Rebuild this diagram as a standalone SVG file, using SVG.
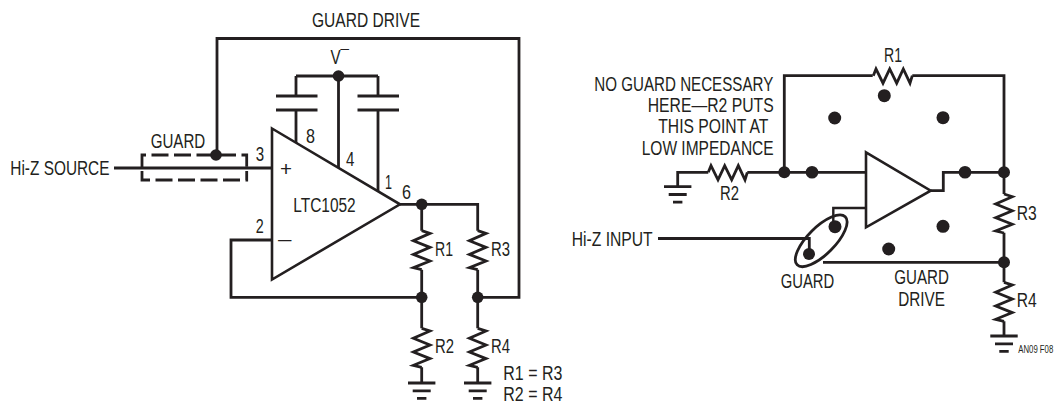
<svg xmlns="http://www.w3.org/2000/svg" xmlns:xlink="http://www.w3.org/1999/xlink" width="1057" height="403" viewBox="0 0 1057 403">
<style>
text{font-family:"Liberation Sans",Arial,sans-serif;font-size:19.5px;fill:#231f20}
.w{fill:none;stroke:#231f20;stroke-width:2.8;stroke-linejoin:miter;stroke-linecap:butt}
.n{fill:none;stroke:#231f20;stroke-width:2.4;stroke-linejoin:miter;stroke-linecap:butt}
.t{fill:#fff;stroke:#231f20;stroke-width:2.6;stroke-miterlimit:10}
.d{fill:#231f20;stroke:none}
.g{fill:none;stroke:#231f20;stroke-width:2.8;stroke-dasharray:17 5.5}
</style>
<defs>
<path id="rv" class="w" d="M0,0L8.3,2.7L-8.3,10L8.3,16.7L-8.3,23.7L8.3,30.3L-8.3,37L0,39"/>
<path id="rh" class="w" d="M0,0L2.7,-6.7L9.7,7.5L16.4,-6.7L23.4,7.5L30,-6.7L36.7,7.5L39,0"/>
<path id="gnd" class="w" d="M-13.7,0H13.7M-9,7.8H9M-4.7,15.4H4.7"/>
</defs>
<rect width="1057" height="403" fill="#fff"/>
<g id="connectors">
<path class="w" d="M217,155V38.5H519V297.3H477.7"/>
<path class="w" d="M114,168H272"/>
<path class="w" d="M296,76H378M296,76V96M296,110V143M338.5,76V168M378,76V96M378,110V191"/>
<path class="w" d="M276,96H317.5M276,110H317.5M357.5,96H399M357.5,110H399"/>
<path class="w" d="M272,240H231V297.3H421.7"/>
<path class="w" d="M400,204.3H477.7V230.7M421.7,204.3V230.7M421.7,269.7V328.3M477.7,269.7V328.3M421.7,367.3V383M477.7,367.3V383"/>
<path class="w" d="M708.3,172.3H677.7V186.7M747.3,172.3H866M784.3,172.3V75.7H872.7M912.3,75.7H1004V194M1004,232.7V282.3M1004,321.3V336"/>
<path class="w" d="M930.7,190.7H943.3V172.3H1004"/>
<path class="n" d="M866,208H833.3V226"/>
<path class="w" d="M658,238.5H809.3V254"/>
<path class="w" d="M823,262.3H1004"/>
</g>
<g id="guard-shield"><path class="g" d="M142,168V155H246.7V168"/><path class="g" d="M142,171V180H246.7V171"/><circle class="d" cx="216" cy="155" r="5.8"/></g>
<g id="opamp-left"><path class="t" d="M272,128.5L400,204.3L272,279.5Z"/>
<text x="280" y="175.5" textLength="12" lengthAdjust="spacingAndGlyphs">+</text>
<text x="278" y="246" textLength="13.5" lengthAdjust="spacingAndGlyphs">–</text>
<text x="293.3" y="212" textLength="62.4" lengthAdjust="spacingAndGlyphs">LTC1052</text></g>
<g id="caps-left"><circle class="d" cx="338.5" cy="76" r="5.8"/></g>
<g id="r1-left"><use xlink:href="#rv" href="#rv" x="421.7" y="230.7"/><text x="435" y="255.7" textLength="18" lengthAdjust="spacingAndGlyphs">R1</text></g>
<g id="r2-left"><use xlink:href="#rv" href="#rv" x="421.7" y="328.3"/><text x="435" y="352.7" textLength="19" lengthAdjust="spacingAndGlyphs">R2</text><use xlink:href="#gnd" href="#gnd" x="421.7" y="383"/></g>
<g id="r3-left"><use xlink:href="#rv" href="#rv" x="477.7" y="230.7"/><text x="491" y="255.7" textLength="19" lengthAdjust="spacingAndGlyphs">R3</text></g>
<g id="r4-left"><use xlink:href="#rv" href="#rv" x="477.7" y="328.3"/><text x="491" y="352.7" textLength="19" lengthAdjust="spacingAndGlyphs">R4</text><use xlink:href="#gnd" href="#gnd" x="477.7" y="383"/></g>
<g id="dots-left"><circle class="d" cx="421.7" cy="204.3" r="5.8"/><circle class="d" cx="421.7" cy="297.3" r="5.8"/><circle class="d" cx="477.7" cy="297.3" r="5.8"/></g>
<g id="labels-left">
<text x="312" y="27" textLength="108" lengthAdjust="spacingAndGlyphs">GUARD DRIVE</text>
<text x="330.5" y="64" textLength="18.5" lengthAdjust="spacingAndGlyphs">V¯</text>
<text x="150.7" y="148" textLength="54.6" lengthAdjust="spacingAndGlyphs">GUARD</text>
<text x="10.3" y="175" textLength="99.2" lengthAdjust="spacingAndGlyphs">Hi-Z SOURCE</text>
<text x="255.7" y="161" textLength="8.4" lengthAdjust="spacingAndGlyphs">3</text>
<text x="306" y="143" textLength="9" lengthAdjust="spacingAndGlyphs">8</text>
<text x="346" y="166" textLength="8.4" lengthAdjust="spacingAndGlyphs">4</text>
<text x="385" y="189" textLength="7" lengthAdjust="spacingAndGlyphs">1</text>
<text x="402" y="199" textLength="9" lengthAdjust="spacingAndGlyphs">6</text>
<text x="255.7" y="232.7" textLength="8" lengthAdjust="spacingAndGlyphs">2</text>
<text x="503.3" y="380" textLength="59" lengthAdjust="spacingAndGlyphs">R1 = R3</text>
<text x="503.3" y="400.7" textLength="59" lengthAdjust="spacingAndGlyphs">R2 = R4</text>
</g>
<g id="opamp-right"><path class="t" d="M866,152.3L930.7,190.7L866,227.3Z"/></g>
<g id="r1-right"><use xlink:href="#rh" href="#rh" x="873.3" y="75.7"/><text x="884" y="62" textLength="18" lengthAdjust="spacingAndGlyphs">R1</text></g>
<g id="r2-right"><use xlink:href="#rh" href="#rh" x="708.3" y="172.3"/><text x="720" y="200" textLength="19" lengthAdjust="spacingAndGlyphs">R2</text><use xlink:href="#gnd" href="#gnd" x="677.7" y="186.7"/></g>
<g id="r3-right"><use xlink:href="#rv" href="#rv" x="1004" y="194"/><text x="1016.7" y="220" textLength="20" lengthAdjust="spacingAndGlyphs">R3</text></g>
<g id="r4-right"><use xlink:href="#rv" href="#rv" x="1004" y="282.3"/><text x="1016.7" y="306.7" textLength="20" lengthAdjust="spacingAndGlyphs">R4</text><use xlink:href="#gnd" href="#gnd" x="1004" y="336"/></g>
<g id="guard-ring"><ellipse class="w" cx="821.2" cy="240.8" rx="34" ry="13.5" transform="rotate(-45 821.2 240.8)"/><circle class="d" cx="835" cy="226.7" r="6.5"/><circle class="d" cx="809" cy="254" r="6"/></g>
<g id="dots-right">
<circle class="d" cx="784.3" cy="172.3" r="6"/><circle class="d" cx="812" cy="172.3" r="6.3"/>
<circle class="d" cx="834.7" cy="118" r="6.5"/><circle class="d" cx="884.3" cy="95.7" r="6.5"/><circle class="d" cx="943" cy="117.7" r="6.5"/>
<circle class="d" cx="965" cy="172.3" r="6.3"/><circle class="d" cx="1004" cy="172.3" r="6"/>
<circle class="d" cx="943" cy="226.3" r="6.5"/><circle class="d" cx="888.7" cy="249" r="6.5"/><circle class="d" cx="1004" cy="262.3" r="6"/>
</g>
<g id="labels-right">
<text x="594.3" y="91" textLength="179" lengthAdjust="spacingAndGlyphs">NO GUARD NECESSARY</text>
<text x="647.7" y="112" textLength="126" lengthAdjust="spacingAndGlyphs">HERE—R2 PUTS</text>
<text x="658.3" y="133.3" textLength="110" lengthAdjust="spacingAndGlyphs">THIS POINT AT</text>
<text x="641.7" y="155" textLength="132" lengthAdjust="spacingAndGlyphs">LOW IMPEDANCE</text>
<text x="571.7" y="246" textLength="81" lengthAdjust="spacingAndGlyphs">Hi-Z INPUT</text>
<text x="780.7" y="287.7" textLength="53.6" lengthAdjust="spacingAndGlyphs">GUARD</text>
<text x="894.3" y="284" textLength="54.7" lengthAdjust="spacingAndGlyphs">GUARD</text>
<text x="898.3" y="305.7" textLength="46.7" lengthAdjust="spacingAndGlyphs">DRIVE</text>
<text transform="translate(1018.3 353) scale(.74 1)" style="font-size:10.5px">AN09 F08</text>
</g>
</svg>
